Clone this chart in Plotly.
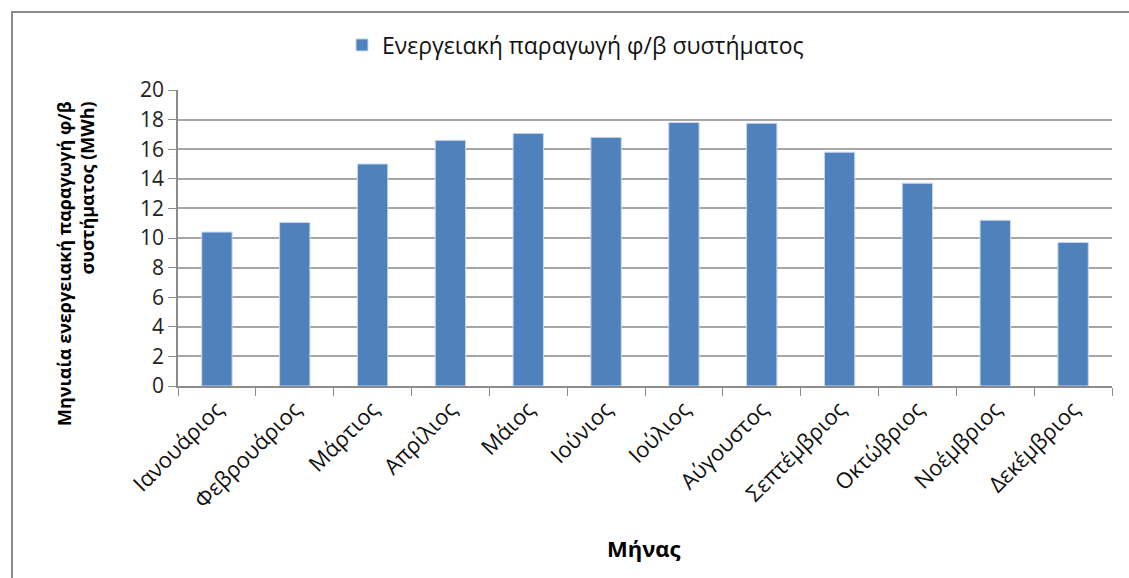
import plotly.graph_objects as go

months = ["Ιανουάριος", "Φεβρουάριος", "Μάρτιος", "Απρίλιος", "Μάιος", "Ιούνιος",
          "Ιούλιος", "Αύγουστος", "Σεπτέμβριος", "Οκτώβριος", "Νοέμβριος", "Δεκέμβριος"]
energy_mwh = [10.4, 11.05, 15.0, 16.6, 17.07, 16.8, 17.8, 17.75, 15.8, 13.7, 11.2, 9.7]
y_ticks = [0, 2, 4, 6, 8, 10, 12, 14, 16, 18, 20]

series_name = "Ενεργειακή παραγωγή φ/β συστήματος"
y_title = "Μηνιαία ενεργειακή παραγωγή φ/β<br>συστήματος (MWh)"
x_title = "Μήνας"

FONT = "Open Sans"
W, H = 1129, 578
L, R, T, B = 178, 17, 90, 192
PW, PH = W - L - R, H - T - B


def px(x):
    return (x - L) / PW


def py(y):
    return (H - B - y) / PH


fig = go.Figure(go.Bar(
    x=months, y=energy_mwh, name=series_name,
    marker=dict(color="#4F81BD", line=dict(color="#C9D7EA", width=1)),
    showlegend=True,
))

fig.update_layout(
    width=W, height=H,
    margin=dict(l=L, r=R, t=T, b=B),
    paper_bgcolor="white", plot_bgcolor="white",
    font=dict(family=FONT, size=18, color="black"),
    bargap=0.61,
    showlegend=True,
    legend=dict(orientation="h", x=px(342), y=py(45), xanchor="left", yanchor="middle",
                font=dict(family=FONT, size=23, color="#111"),
                itemwidth=30, bgcolor="rgba(0,0,0,0)"),
    xaxis=dict(
        type="category", tickangle=-45, showgrid=False,
        showline=True, linecolor="#8c8c8c", linewidth=1.5,
        ticks="outside", tickson="boundaries", ticklen=8, tickcolor="#8c8c8c",
        tickfont=dict(family=FONT, size=22, color="#111"),
    ),
    yaxis=dict(
        range=[0, 20], tickvals=y_ticks,
        showgrid=True, gridcolor="#a6a6a6", gridwidth=1.5,
        showline=True, linecolor="#8c8c8c", linewidth=1.5,
        ticks="outside", ticklen=8, tickcolor="#8c8c8c",
        tickfont=dict(family=FONT, size=21, color="#222"),
        zeroline=False,
    ),
    annotations=[
        dict(text="<b>" + y_title + "</b>", xref="paper", yref="paper",
             x=px(75), y=py(264), xanchor="center", yanchor="middle",
             textangle=-90, align="right", showarrow=False,
             font=dict(family=FONT, size=18, color="black")),
        dict(text="<b>" + x_title + "</b>", xref="paper", yref="paper",
             x=px(644), y=py(548), xanchor="center", yanchor="middle",
             showarrow=False, font=dict(family=FONT, size=22, color="black")),
    ],
    shapes=[
        dict(type="rect", xref="paper", yref="paper",
             x0=px(12), y0=py(600), x1=px(1140), y1=py(12),
             line=dict(color="#8c8c8c", width=2), fillcolor="rgba(0,0,0,0)", layer="below"),
    ],
)

fig.write_html("out.html")
